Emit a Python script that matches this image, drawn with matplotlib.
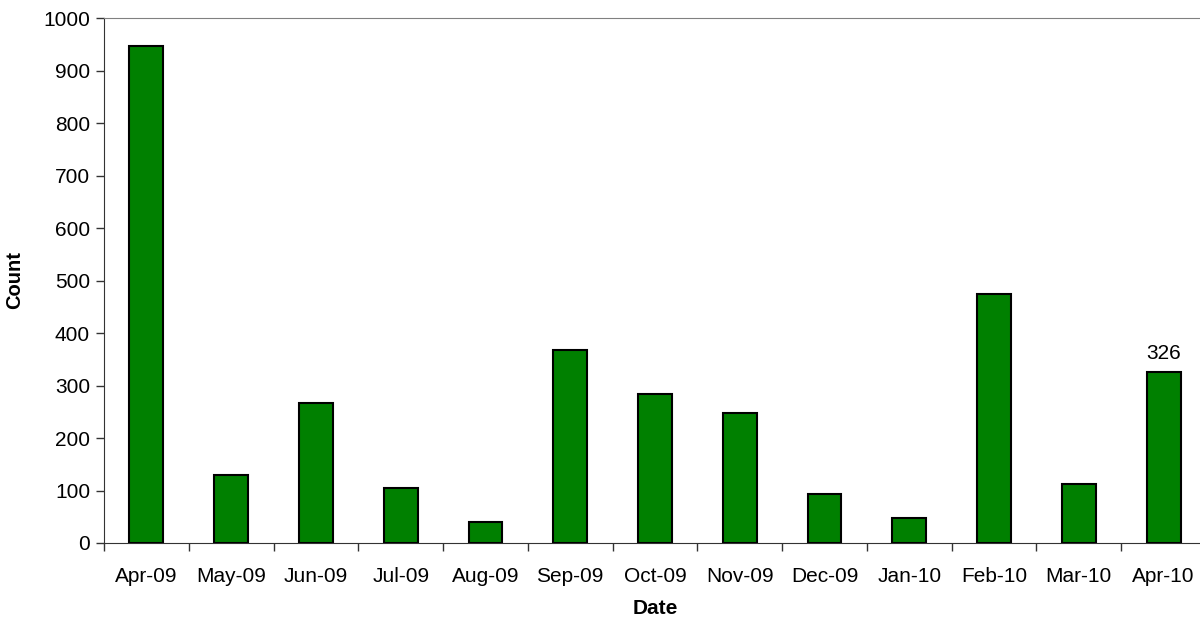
import matplotlib
matplotlib.use("Agg")
import matplotlib.pyplot as plt
import numpy as np

plt.rcParams['font.family'] = ['Liberation Sans', 'DejaVu Sans']

# monthly counts
months = ['Apr-09', 'May-09', 'Jun-09', 'Jul-09', 'Aug-09', 'Sep-09', 'Oct-09',
          'Nov-09', 'Dec-09', 'Jan-10', 'Feb-10', 'Mar-10', 'Apr-10']
counts = [947, 130, 267, 104, 40, 368, 284, 248, 93, 48, 475, 113, 326]

fig = plt.figure(figsize=(12, 6.18), dpi=100)
ax = fig.add_axes([104/1200, 1 - 543/618, 1102/1200, 525/618])

x = np.arange(len(months))
ax.bar(x, counts, width=0.4, color='#008000', edgecolor='black', linewidth=1.5, zorder=3)

# label only the last bar
ax.text(x[-1], counts[-1] + 16, str(counts[-1]), ha='center', va='bottom', fontsize=15)

ax.set_xlim(-0.5, len(months) - 0.5)
ax.set_ylim(0, 1000)
ax.set_yticks(range(0, 1001, 100))
ax.set_xticks(x)
ax.set_xticklabels(months)
ax.set_xticks(np.arange(-0.5, len(months), 1), minor=True)
ax.tick_params(axis='x', which='major', length=0, pad=17, labelsize=15)
ax.tick_params(axis='x', which='minor', length=6, width=1, color='#333333')
ax.tick_params(axis='y', length=6, width=1, labelsize=15, pad=4, color='#333333')

ax.spines['right'].set_visible(False)
ax.spines['top'].set_color('#808080')
ax.spines['left'].set_color('#333333')
ax.spines['bottom'].set_color('#333333')

ax.set_ylabel('Count', fontsize=14.5, fontweight='bold', labelpad=14)
ax.set_xlabel('Date', fontsize=15, fontweight='bold', labelpad=10)

fig.savefig('out.png', dpi=100)
